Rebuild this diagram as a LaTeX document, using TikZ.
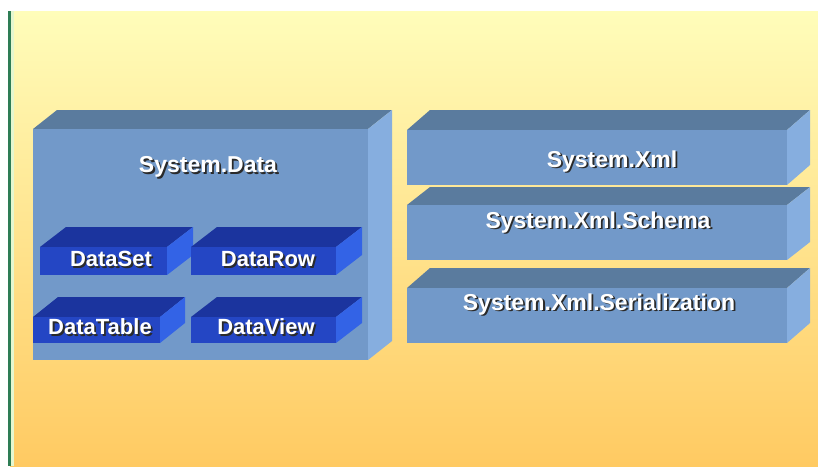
\documentclass[tikz,border=0pt]{standalone}
\usepackage{fontspec}
\setmainfont{Liberation Sans}
\definecolor{bgtop}{HTML}{FFFDBA}
\definecolor{bgmid}{HTML}{FFE89A}
\definecolor{bgbot}{HTML}{FFCA62}
\definecolor{edgegreen}{HTML}{2E7D55}
\definecolor{edgemint}{HTML}{E6F7CF}
\definecolor{slabfront}{HTML}{7299C9}
\definecolor{slabtop}{HTML}{5A7B9E}
\definecolor{slabside}{HTML}{86AEDF}
\definecolor{bluefront}{HTML}{2446C4}
\definecolor{bluetop}{HTML}{1B349E}
\definecolor{blueside}{HTML}{3363E6}
\definecolor{textshadow}{HTML}{2A2A2A}

\usetikzlibrary{calc}

% A box seen slightly from above and right:
% #1 name, (#2,#3)-(#4,#5) front face, (#6,#7) depth offset, #8 colour prefix
\newcommand\slabbox[8]{%
  \coordinate (#1-fl) at (#2,#5);
  \coordinate (#1-ft) at (#2,#3);
  \coordinate (#1-fr) at (#4,#3);
  \coordinate (#1-br) at (#4,#5);
  \fill[#8top] (#1-ft) -- ++(#6,#7) -- ($(#1-fr)+(#6,#7)$) -- (#1-fr) -- cycle;
  \fill[#8side] (#1-fr) -- ++(#6,#7) -- ($(#1-br)+(#6,#7)$) -- (#1-br) -- cycle;
  \fill[#8front] (#1-ft) rectangle (#1-br);
}

% White text with a dark drop shadow, set as one box
\newcommand\shadowtext[1]{%
  \rlap{\kern1.8pt\raisebox{-1.8pt}{\textcolor{textshadow}{#1}}}#1}

\begin{document}
\begin{tikzpicture}[x=1pt,y=-1pt,
  biglabel/.style={font=\bfseries\fontsize{23}{25}\selectfont, text=white, inner sep=0pt},
  smalllabel/.style={font=\bfseries\fontsize{22}{24}\selectfont, text=white, inner sep=0pt}]

% page and background
\fill[white] (0,0) rectangle (818,466);
\useasboundingbox (0,0) rectangle (818,466);
\shade[top color=bgtop, middle color=bgmid, bottom color=bgbot] (10,11) rectangle (818,466);
\fill[edgemint] (10,11) rectangle (14,466);
\fill[edgegreen] (8,11) rectangle (10.5,466);

% System.Data block and its classes
\slabbox{data}{33}{129}{368}{360}{24}{-19}{slab}
\slabbox{dataset}{40}{247}{167}{275}{26}{-20}{blue}
\slabbox{datarow}{191}{247}{336}{275}{26}{-20}{blue}
\slabbox{datatable}{33}{317}{160}{343}{25}{-20}{blue}
\slabbox{dataview}{191}{317}{336}{343}{26}{-20}{blue}

% XML namespaces
\slabbox{xml}{407}{130}{787}{185}{23}{-20}{slab}
\slabbox{schema}{407}{205}{787}{260}{23}{-18}{slab}
\slabbox{serial}{407}{288}{787}{343}{23}{-20}{slab}

% labels
\node[biglabel]   (lbl-data)      at (208,168) {\shadowtext{System.Data}};
\node[smalllabel] (lbl-dataset)   at (111,260) {\shadowtext{DataSet}};
\node[smalllabel] (lbl-datarow)   at (268,260) {\shadowtext{DataRow}};
\node[smalllabel] (lbl-datatable) at (100,328) {\shadowtext{DataTable}};
\node[smalllabel] (lbl-dataview)  at (266,328) {\shadowtext{DataView}};
\node[biglabel]   (lbl-xml)       at (612,162) {\shadowtext{System.Xml}};
\node[biglabel]   (lbl-schema)    at (598,223) {\shadowtext{System.Xml.Schema}};
\node[biglabel]   (lbl-serial)    at (599,305) {\shadowtext{System.Xml.Serialization}};
\end{tikzpicture}
\end{document}
